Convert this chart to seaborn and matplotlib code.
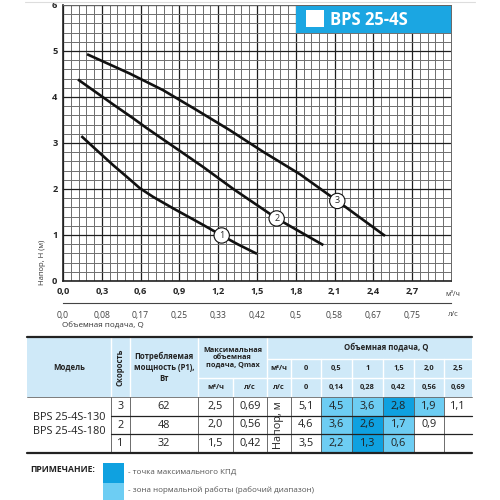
import numpy as np
import pandas as pd
import matplotlib
matplotlib.use("Agg")
import matplotlib.pyplot as plt
import seaborn as sns
from matplotlib.patches import Rectangle

# ---------------- data ----------------
curve1_q = [0.142, 0.258, 0.387, 0.516, 0.593, 0.696, 0.851, 0.98, 1.083, 1.227, 1.35, 1.5]
curve1_h = [3.15, 2.85, 2.52, 2.21, 2.02, 1.83, 1.58, 1.38, 1.22, 0.99, 0.80, 0.59]
curve2_q = [0.116, 0.387, 0.541, 0.644, 0.773, 0.98, 1.083, 1.317, 1.652, 2.013]
curve2_h = [4.38, 3.84, 3.54, 3.33, 3.08, 2.68, 2.48, 2.00, 1.36, 0.78]
curve3_q = [0.186, 0.516, 0.773, 1.031, 1.289, 1.547, 1.833, 2.121, 2.49]
curve3_h = [4.93, 4.51, 4.15, 3.72, 3.28, 2.81, 2.32, 1.74, 0.98]
label_pos = {"1": (1.227, 0.99), "2": (1.652, 1.36), "3": (2.121, 1.74)}

x_ticks = [0.0, 0.3, 0.6, 0.9, 1.2, 1.5, 1.8, 2.1, 2.4, 2.7]
x_tick_labels = ["0,0", "0,3", "0,6", "0,9", "1,2", "1,5", "1,8", "2,1", "2,4", "2,7"]
ls_tick_labels = ["0,0", "0,08", "0,17", "0,25", "0,33", "0,42", "0,5", "0,58", "0,67", "0,75"]
y_ticks = [0, 1, 2, 3, 4, 5, 6]

models = ["BPS 25-4S-130", "BPS 25-4S-180"]
speeds = ["3", "2", "1"]
power = ["62", "48", "32"]
qmax_m3h = ["2,5", "2,0", "1,5"]
qmax_ls = ["0,69", "0,56", "0,42"]
q_m3h = ["0", "0,5", "1", "1,5", "2,0", "2,5"]
q_ls = ["0", "0,14", "0,28", "0,42", "0,56", "0,69"]
head_rows = [["5,1", "4,5", "3,6", "2,8", "1,9", "1,1"],
             ["4,6", "3,6", "2,6", "1,7", "0,9", ""],
             ["3,5", "2,2", "1,3", "0,6", "", ""]]
# 0 = white, 1 = working zone, 2 = max efficiency
zone_rows = [[0, 1, 1, 2, 1, 0],
             [0, 1, 2, 1, 0, 0],
             [0, 1, 2, 1, 0, 0]]

# ---------------- style ----------------
sns.set_style("white")
plt.rcParams["font.family"] = ["Open Sans", "DejaVu Sans"]

DARK = "#0fa1e0"
LIGHT = "#6dcdf3"
HEAD = "#cfe9f8"
TITLE = "#1ba6e2"

fig = plt.figure(figsize=(5, 5), dpi=100)
W = H = 500.0

def px_axes(x0, y0, x1, y1):
    return fig.add_axes([x0 / W, 1 - y1 / H, (x1 - x0) / W, (y1 - y0) / H])

# ---------------- main chart ----------------
ax = px_axes(63, 5, 451, 281)
frames = []
for name, q, h in [("1", curve1_q, curve1_h), ("2", curve2_q, curve2_h), ("3", curve3_q, curve3_h)]:
    frames.append(pd.DataFrame({"Q": q, "H": h, "speed": name}))
df = pd.concat(frames, ignore_index=True)
for name in ["1", "2", "3"]:
    sns.lineplot(data=df[df.speed == name], x="Q", y="H", ax=ax, color="#111111",
                 lw=1.9, sort=False, estimator=None, zorder=5,
                 solid_joinstyle="round", solid_capstyle="butt")
for k, (qx, hy) in label_pos.items():
    ax.text(qx, hy, k, ha="center", va="center", fontsize=6.5, zorder=6,
            bbox=dict(boxstyle="circle,pad=0.35", fc="white", ec="#111111", lw=0.8))

ax.set_xlim(0, 3.0)
ax.set_ylim(0, 6)
ax.set_xticks(x_ticks)
ax.set_xticklabels(x_tick_labels, fontsize=6.7, fontweight="bold")
ax.set_yticks(y_ticks)
ax.set_yticklabels([str(v) for v in y_ticks], fontsize=6.7, fontweight="bold")
ax.set_xticks(np.arange(0, 3.0001, 0.06), minor=True)
ax.set_yticks(np.arange(0, 6.0001, 0.2), minor=True)
ax.tick_params(axis="both", which="both", length=0)
ax.tick_params(axis="x", pad=4)
ax.tick_params(axis="y", pad=4)
ax.grid(which="major", color="#1e1e1e", lw=0.9)
ax.grid(which="minor", color="#6e6e6e", lw=0.7)
ax.set_axisbelow(True)
ax.set_xlabel("")
ax.set_ylabel("")
for s in ["left", "bottom"]:
    ax.spines[s].set_color("#222222")
    ax.spines[s].set_linewidth(1.2)
for s in ["top", "right"]:
    ax.spines[s].set_color("#666666")
    ax.spines[s].set_linewidth(0.7)

# secondary axis (л/с)
ax2 = px_axes(63, 302.5, 451, 303)
ax2.set_xlim(0, 3.0)
ax2.set_ylim(0, 1)
ax2.set_yticks([])
ax2.set_xticks(x_ticks + [3.0])
ax2.set_xticklabels(ls_tick_labels + [""], fontsize=6.2, color="#444444")
ax2.tick_params(axis="x", length=4, width=0.8, color="#444444", pad=2)
for s in ["left", "right", "top"]:
    ax2.spines[s].set_visible(False)
ax2.spines["bottom"].set_color("#444444")
ax2.spines["bottom"].set_linewidth(0.8)
ax2.patch.set_alpha(0)

# ---------------- overlay (title, labels, table) ----------------
ov = fig.add_axes([0, 0, 1, 1], zorder=10)
ov.set_xlim(0, W)
ov.set_ylim(H, 0)
ov.axis("off")
ov.patch.set_alpha(0)

ov.plot([25, 475], [1.5, 1.5], color="#dddddd", lw=0.8)

# title box
ov.add_patch(Rectangle((296, 6), 155, 27, fc=TITLE, ec="none"))
ov.add_patch(Rectangle((306, 10), 18, 17, fc="white", ec="none"))
ov.text(330, 20, "BPS 25-4S", color="white", fontsize=12, fontweight="bold",
        ha="left", va="center")

ov.text(43, 262, "Напор, H (м)", rotation=90, fontsize=5.5, color="#333333",
        ha="center", va="center")
ov.text(453, 294, "м³/ч", fontsize=5.2, color="#333333", ha="center", va="center")
ov.text(453, 314, "л/с", fontsize=5.5, color="#444444", ha="center", va="center")
ov.text(62, 326, "Объемная подача, Q", fontsize=5.8, color="#333333",
        ha="left", va="center")

# table geometry
cx = [27, 110.7, 130, 198, 233, 267, 291, 320.7, 351.7, 382.7, 414.3, 444, 472]
ry = [337, 359, 378, 397, 416, 434, 453]

ov.add_patch(Rectangle((cx[0], ry[0]), cx[-1] - cx[0], ry[3] - ry[0], fc=HEAD, ec="none"))
zone_col = {0: "white", 1: LIGHT, 2: DARK}
for r in range(3):
    for c in range(6):
        x0, x1 = cx[6 + c], cx[7 + c]
        ov.add_patch(Rectangle((x0, ry[3 + r]), x1 - x0, ry[4 + r] - ry[3 + r],
                               fc=zone_col[zone_rows[r][c]], ec="none"))

# header lines (white)
for x in [cx[1], cx[2], cx[3], cx[5]]:
    ov.plot([x, x], [ry[0], ry[3]], color="white", lw=1)
ov.plot([cx[4], cx[4]], [ry[2], ry[3]], color="white", lw=1)
ov.plot([cx[3], cx[5]], [ry[2], ry[2]], color="white", lw=1)
ov.plot([cx[5], cx[-1]], [ry[1], ry[1]], color="white", lw=1)
ov.plot([cx[5], cx[-1]], [ry[2], ry[2]], color="white", lw=1)
for x in cx[6:-1]:
    ov.plot([x, x], [ry[1], ry[3]], color="white", lw=1)
# body lines
for x in cx[1:-1]:
    ov.plot([x, x], [ry[3], ry[6]], color="#555555", lw=0.6)
for y in [ry[4], ry[5]]:
    ov.plot([cx[1], cx[-1]], [y, y], color="#222222", lw=0.9)
ov.plot([cx[0], cx[-1]], [ry[3], ry[3]], color="#666666", lw=0.6)
ov.plot([cx[0], cx[-1]], [ry[0], ry[0]], color="#222222", lw=1.6)
ov.plot([cx[0], cx[-1]], [ry[6], ry[6]], color="#222222", lw=1.6)

hfs = 5.3
hc = "#222222"
ov.text((cx[0] + cx[1]) / 2, 367, "Модель", fontsize=hfs + 0.3, fontweight="bold",
        ha="center", va="center", color=hc)
ov.text((cx[1] + cx[2]) / 2, 367, "Скорость", fontsize=hfs + 0.3, fontweight="bold",
        ha="center", va="center", rotation=90, color=hc)
ov.text((cx[2] + cx[3]) / 2, 367, "Потребляемая\nмощность (P1),\nВт", fontsize=hfs + 0.3,
        fontweight="bold", ha="center", va="center", color=hc, linespacing=1.3)
ov.text((cx[3] + cx[5]) / 2, 357.5, "Максимальная\nобъемная\nподача, Qmax", fontsize=hfs,
        fontweight="bold", ha="center", va="center", color=hc, linespacing=1.1)
ov.text((cx[3] + cx[4]) / 2, 387.5, "м³/ч", fontsize=hfs, fontweight="bold",
        ha="center", va="center", color=hc)
ov.text((cx[4] + cx[5]) / 2, 387.5, "л/с", fontsize=hfs, fontweight="bold",
        ha="center", va="center", color=hc)
ov.text(386, 348, "Объемная подача, Q", fontsize=hfs + 0.3, fontweight="bold",
        ha="center", va="center", color=hc)
ov.text((cx[5] + cx[6]) / 2, 368.5, "м³/ч", fontsize=hfs, fontweight="bold",
        ha="center", va="center", color=hc)
ov.text((cx[5] + cx[6]) / 2, 387.5, "л/с", fontsize=hfs, fontweight="bold",
        ha="center", va="center", color=hc)
for c in range(6):
    xm = (cx[6 + c] + cx[7 + c]) / 2
    ov.text(xm, 368.5, q_m3h[c], fontsize=hfs, fontweight="bold", ha="center",
            va="center", color=hc)
    ov.text(xm, 387.5, q_ls[c], fontsize=hfs, fontweight="bold", ha="center",
            va="center", color=hc)

bfs = 7.8
bc = "#222222"
ov.text((cx[0] + cx[1]) / 2, 418, models[0], fontsize=bfs, ha="center", va="center", color=bc)
ov.text((cx[0] + cx[1]) / 2, 432, models[1], fontsize=bfs, ha="center", va="center", color=bc)
ov.text((cx[5] + cx[6]) / 2, 425, "Напор, м", fontsize=bfs, rotation=90,
        ha="center", va="center", color=bc)
for r in range(3):
    ym = (ry[3 + r] + ry[4 + r]) / 2
    ov.text((cx[1] + cx[2]) / 2, ym, speeds[r], fontsize=bfs, ha="center", va="center", color=bc)
    ov.text((cx[2] + cx[3]) / 2, ym, power[r], fontsize=bfs, ha="center", va="center", color=bc)
    ov.text((cx[3] + cx[4]) / 2, ym, qmax_m3h[r], fontsize=bfs, ha="center", va="center", color=bc)
    ov.text((cx[4] + cx[5]) / 2, ym, qmax_ls[r], fontsize=bfs, ha="center", va="center", color=bc)
    for c in range(6):
        ov.text((cx[6 + c] + cx[7 + c]) / 2, ym, head_rows[r][c], fontsize=bfs,
                ha="center", va="center", color=bc)

# note
ov.text(30, 470, "ПРИМЕЧАНИЕ:", fontsize=6.2, fontweight="bold", ha="left",
        va="center", color="#222222")
ov.add_patch(Rectangle((103, 463), 21, 19.5, fc=DARK, ec="none"))
ov.add_patch(Rectangle((103, 482.5), 21, 17.5, fc=LIGHT, ec="none"))
ov.text(128, 472, "- точка максимального КПД", fontsize=5.8, ha="left",
        va="center", color="#555555")
ov.text(128, 490, "- зона нормальной работы (рабочий диапазон)", fontsize=5.8,
        ha="left", va="center", color="#555555")

fig.savefig("out.png", dpi=100)
